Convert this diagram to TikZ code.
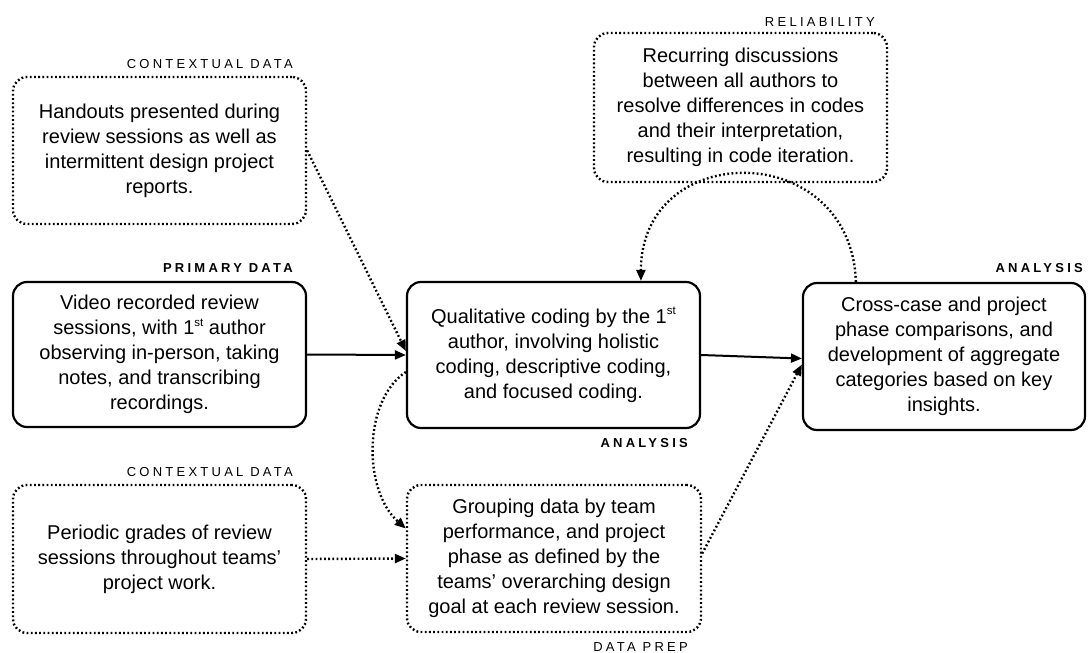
\documentclass[tikz,border=0pt]{standalone}
\usepackage{fontspec}
\setmainfont{Liberation Sans}
\newfontfamily\lblfont[LetterSpace=25]{Liberation Sans}
\usetikzlibrary{arrows.meta,calc}
\newcommand{\supst}{\raisebox{0.42em}{\fontsize{11.5}{12}\selectfont st}}
\begin{document}
\begin{tikzpicture}[x=1pt,y=-1pt,
 box/.style={draw, rounded corners=14pt, line width=2.2pt, minimum width=293pt, minimum height=147pt, align=center, font=\fontsize{20}{25}\selectfont, inner sep=0pt},
 dotbox/.style={box, line width=2.4pt, dash pattern=on 1.8pt off 2.4pt},
 lbl/.style={font=\lblfont\fontsize{13}{14}\selectfont, anchor=base east, inner sep=0pt},
 blbl/.style={font=\lblfont\bfseries\fontsize{13}{14}\selectfont, anchor=base east, inner sep=0pt},
 conn/.style={line width=2pt, -{Triangle[length=11pt,width=9pt]}},
 dconn/.style={conn, line width=2.4pt, dash pattern=on 1.8pt off 2.4pt}
]
\useasboundingbox (0,0) rectangle (1088,653);

\node[dotbox] (b1) at (159.5,150.5) {Handouts presented during\\review sessions as well as\\intermittent design project\\reports.};
\node[box] (b2) at (159.5,354.5) [minimum height=145pt] {Video recorded review\\sessions, with 1\supst{} author\\observing in-person, taking\\notes, and transcribing\\recordings.};
\node[box] (b3) at (553.5,355) [minimum height=146pt] {Qualitative coding by the 1\supst\\author, involving holistic\\coding, descriptive coding,\\and focused coding.};
\node[dotbox] (b4) at (740.5,107.5) [minimum height=149pt] {Recurring discussions\\between all authors to\\resolve differences in codes\\and their interpretation,\\resulting in code iteration.};
\node[box] (b5) at (944,356.5) [minimum width=282pt] {Cross-case and project\\phase comparisons, and\\development of aggregate\\categories based on key\\insights.};
\node[dotbox] (b6) at (159.5,559) [minimum height=148pt] {Periodic grades of review\\sessions throughout teams'\\project work.};
\node[dotbox] (b7) at (554,558.5) [minimum width=294pt] {Grouping data by team\\performance, and project\\phase as defined by the\\teams' overarching design\\goal at each review session.};

\node[lbl]  (l1) at (293,68)  {CONTEXTUAL DATA};
\node[blbl] (l2) at (293,272) {PRIMARY DATA};
\node[lbl]  (l4) at (875,26)  {RELIABILITY};
\node[blbl] (l5) at (1083,272) {ANALYSIS};
\node[blbl] (l3) at (688,447) {ANALYSIS};
\node[lbl]  (l6) at (293,476) {CONTEXTUAL DATA};
\node[lbl]  (l7) at (688,651) {DATA PREP};

\draw[conn] (b2.east) -- (b3.west);
\draw[dconn] (b1.east) -- ($(b3.west)+(0,-4)$);
\draw[dconn] (b6.east) -- (b7.west);
\draw[dconn] ($(b3.west)+(0,17)$) .. controls +(-43,28) and +(-43,-38) .. ($(b7.west)+(0,-30)$);
\draw[conn] (b3.east) -- ($(b5.west)+(0,2)$);
\draw[dconn] ($(b7.east)+(0,-5)$) -- ($(b5.west)+(0,8)$);
\draw[dconn] ($(b5.north west)+(54,0)$) .. controls +(-5,-144) and +(0,-142) .. ($(b3.north west)+(235,0)$);
\end{tikzpicture}
\end{document}
